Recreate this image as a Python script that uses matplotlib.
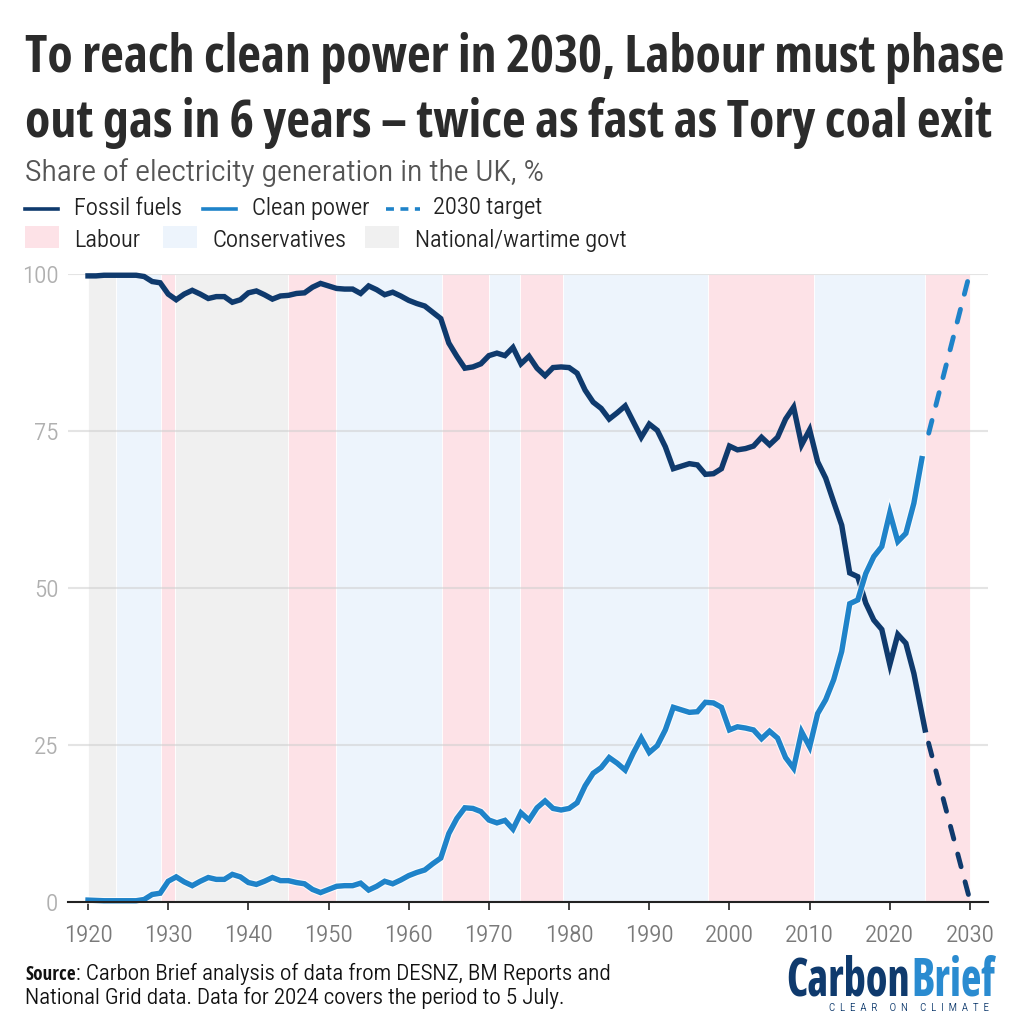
import matplotlib
matplotlib.use('Agg')
import matplotlib.pyplot as plt
import matplotlib.patheffects as pe
from matplotlib.lines import Line2D
from matplotlib.patches import Rectangle
from matplotlib.font_manager import FontProperties
from fontTools.ttLib import TTFont
from fontTools.varLib import instancer

# Data
years = list(range(1920, 2024))
fossil = [99.7, 99.7, 99.8, 99.8, 99.8, 99.8, 99.8, 99.6, 98.8, 98.6,
          96.8, 95.9, 96.8, 97.4, 96.8, 96.1, 96.4, 96.4, 95.5, 95.9,
          97.0, 97.3, 96.7, 96.0, 96.5, 96.6, 96.9, 97.0, 97.9, 98.5,
          98.1, 97.7, 97.6, 97.6, 96.9, 98.1, 97.5, 96.7, 97.1, 96.5,
          95.8, 95.3, 94.9, 93.9, 92.9, 89.0, 86.9, 85.0, 85.2, 85.7,
          87.0, 87.4, 87.0, 88.3, 85.7, 86.9, 85.0, 83.8, 85.1, 85.2,
          85.1, 84.2, 81.5, 79.6, 78.6, 76.9, 77.9, 79.0, 76.5, 74.0,
          76.1, 75.1, 72.5, 69.0, 69.4, 69.8, 69.6, 68.1, 68.2, 69.0,
          72.6, 72.0, 72.2, 72.6, 74.0, 72.8, 74.0, 76.9, 78.8, 72.8,
          75.2, 70.1, 67.5, 63.7, 60.0, 52.4, 51.8, 47.6, 44.9, 43.4,
          37.8, 42.6, 41.2, 36.4]
clean = [0.3, 0.25, 0.2, 0.2, 0.2, 0.2, 0.2, 0.4, 1.2, 1.4,
         3.3, 4.0, 3.2, 2.6, 3.3, 3.9, 3.6, 3.6, 4.4, 4.0,
         3.1, 2.8, 3.3, 3.9, 3.4, 3.4, 3.1, 2.9, 2.0, 1.5,
         2.0, 2.5, 2.6, 2.6, 3.0, 1.9, 2.5, 3.3, 2.9, 3.5,
         4.2, 4.7, 5.1, 6.1, 7.0, 10.9, 13.3, 15.0, 14.9, 14.4,
         13.05, 12.6, 13.0, 11.6, 14.2, 13.05, 15.0, 16.1, 14.9, 14.65,
         14.9, 15.8, 18.5, 20.5, 21.4, 23.0, 22.1, 21.0, 23.7, 26.1,
         23.8, 24.9, 27.4, 31.0, 30.6, 30.2, 30.3, 31.8, 31.7, 31.0,
         27.4, 27.9, 27.7, 27.4, 26.0, 27.2, 26.1, 23.0, 21.3, 27.1,
         24.7, 30.0, 32.2, 35.4, 39.9, 47.5, 48.1, 52.3, 55.0, 56.6,
         62.0, 57.4, 58.7, 63.5]
# 2024 is a part year, to 5 July
fossil_2024 = (2024.4, 27.4)
clean_2024 = (2024.0, 70.6)
# dashes run back from 2030 so a whole dash sits at the far end
fossil_target_x = [2029.8, 2024.4]
fossil_target = [1.2, 27.4]
clean_target_x = [2029.7, 2024.4]
clean_target = [98.8, 72.4]

# Governments: start, end, party
govts = [(1920, 1923.5, 'nat'), (1923.5, 1929.1, 'con'), (1929.1, 1930.9, 'lab'),
         (1930.9, 1945, 'nat'), (1945, 1950.9, 'lab'), (1950.9, 1964.1, 'con'),
         (1964.1, 1970, 'lab'), (1970, 1973.9, 'con'), (1973.9, 1979.2, 'lab'),
         (1979.2, 1997.3, 'con'), (1997.3, 2010.5, 'lab'), (2010.5, 2024.4, 'con'),
         (2024.4, 2030, 'lab')]

NAVY = '#0f3a6d'
BLUE = '#1f83c9'
party_col = {'lab': '#fde2e7', 'con': '#edf4fc', 'nat': '#f0f0f0'}
W = 1024
FONT_DIR = '/usr/share/fonts/truetype/google-fonts/'


def narrow_font(source, out_name, squeeze=1.0, **axes):
    # no narrow font is installed, so cut one out of the variable fonts
    font = instancer.instantiateVariableFont(TTFont(FONT_DIR + source), axes)
    if squeeze != 1.0:
        for name in font.getGlyphOrder():
            glyph = font['glyf'][name]
            if glyph.isComposite():
                for comp in glyph.components:
                    comp.x = int(comp.x * squeeze)
            elif glyph.numberOfContours > 0:
                glyph.coordinates.scale((squeeze, 1))
                glyph.recalcBounds(font['glyf'])
            adv, lsb = font['hmtx'][name]
            font['hmtx'][name] = (int(adv * squeeze), int(lsb * squeeze))
    font.save(out_name)
    return FontProperties(fname=out_name)


title_font = narrow_font('NotoSans[wdth,wght].ttf', 'title.ttf', wdth=62.5, wght=700)
body_font = narrow_font('Roboto[wdth,wght].ttf', 'body.ttf', wdth=85, wght=350)
logo_font = narrow_font('NotoSans[wdth,wght].ttf', 'logo.ttf', squeeze=0.8, wdth=62.5, wght=800)


def fx(px):
    return px / W


def fy(py):
    return 1 - py / W


fig = plt.figure(figsize=(10.24, 10.24), dpi=100, facecolor='white')
ax = fig.add_axes([fx(68), fy(902), (988 - 68) / W, (902 - 274) / W])

for start, end, party in govts:
    ax.axvspan(start, end, facecolor=party_col[party], edgecolor='white', lw=0.6, zorder=1)

ax.grid(True, axis='y', color='#cfcfcf', lw=1.5, alpha=0.55, zorder=2)
ax.set_axisbelow(False)
ax.grid(False, axis='x')

halo = [pe.withStroke(linewidth=5.4, foreground='white', alpha=0.8)]
ax.plot(years + [fossil_2024[0]], fossil + [fossil_2024[1]], color=NAVY, lw=3.9, zorder=3,
        solid_joinstyle='miter', clip_on=False)
ax.plot(fossil_target_x, fossil_target, color=NAVY, lw=3.5, dashes=(2.7, 3.2), dash_capstyle='round',
        zorder=3, clip_on=False)
ax.plot(years + [clean_2024[0]], clean + [clean_2024[1]], color=BLUE, lw=3.9, zorder=4,
        solid_joinstyle='miter', clip_on=False, path_effects=halo)
ax.plot(clean_target_x, clean_target, color=BLUE, lw=3.5, dashes=(2.7, 3.2), dash_capstyle='round',
        zorder=4, clip_on=False)

ax.set_xlim(1920 - 20 / 8.017, 2030 + 18 / 8.017)
ax.set_ylim(0, 100)
ax.set_xticks(range(1920, 2031, 10))
ax.set_yticks([0, 25, 50, 75, 100])
for s in ['top', 'left', 'right']:
    ax.spines[s].set_visible(False)
ax.spines['bottom'].set_linewidth(1.5)
ax.spines['bottom'].set_color('#222222')
ax.spines['bottom'].set_zorder(6)
ax.tick_params(axis='x', length=6, width=1.2, color='#222222', labelcolor='#7a7a7a', pad=10)
ax.tick_params(axis='y', length=0, labelcolor='#b0b0b0', pad=7)
for lab in ax.get_xticklabels() + ax.get_yticklabels():
    lab.set_fontproperties(body_font)
    lab.set_fontsize(17)

# Title and subtitle
fig.text(fx(25), fy(72), 'To reach clean power in 2030, Labour must phase', fontproperties=title_font,
         fontsize=37.4, color='#2b2b2b', va='baseline')
fig.text(fx(25), fy(137), 'out gas in 6 years – twice as fast as Tory coal exit', fontproperties=title_font,
         fontsize=37.4, color='#2b2b2b', va='baseline')
fig.text(fx(25), fy(181), 'Share of electricity generation in the UK, %', fontproperties=body_font,
         fontsize=21.6, color='#555555', va='baseline')

# Legend
for x0, x1, col, ls in [(25, 58, NAVY, '-'), (203, 236, BLUE, '-'), (386, 420, BLUE, (0, (2.2, 1.8)))]:
    fig.add_artist(Line2D([fx(x0), fx(x1)], [fy(209), fy(209)], color=col, lw=2.6, ls=ls))
for x0, name in [(25, 'lab'), (163, 'con'), (365, 'nat')]:
    fig.add_artist(Rectangle((fx(x0), fy(248)), 34 / W, 22 / W, facecolor=party_col[name], edgecolor='none'))
for x0, py, txt in [(74, 215, 'Fossil fuels'), (252, 215, 'Clean power'), (433, 214, '2030 target'),
                    (74, 247, 'Labour'), (212, 247, 'Conservatives'), (415, 247, 'National/wartime govt')]:
    fig.text(fx(x0), fy(py), txt, fontproperties=body_font, fontsize=16.6, color='#222222', va='baseline')

# Source
fig.text(fx(25), fy(980), 'Source', fontproperties=title_font, fontsize=13.8, color='#111111', va='baseline')
fig.text(fx(76), fy(980), ': Carbon Brief analysis of data from DESNZ, BM Reports and', fontproperties=body_font,
         fontsize=15.7, color='#111111', va='baseline')
fig.text(fx(25), fy(1004), 'National Grid data. Data for 2024 covers the period to 5 July.', fontproperties=body_font,
         fontsize=15.7, color='#111111', va='baseline')

# Logo
fig.text(fx(786), fy(995), 'Carbon', fontproperties=logo_font, fontsize=39, color='#0f3a6d', va='baseline')
fig.text(fx(911), fy(995), 'Brief', fontproperties=logo_font, fontsize=39, color='#2a8bd0', va='baseline')
tagline = '\u2002\u2002 '.join('\u2002'.join(word) for word in ['CLEAR', 'ON', 'CLIMATE'])
fig.text(fx(829), fy(1011), tagline, fontproperties=body_font, fontsize=7.5, color='#0f3a6d', va='baseline')

fig.savefig('out.png', dpi=100)
